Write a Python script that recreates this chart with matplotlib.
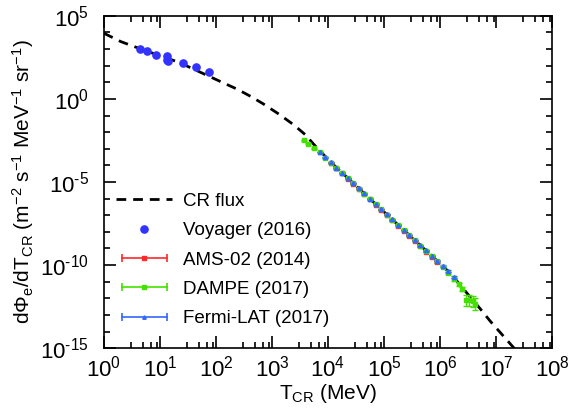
import numpy as np
import matplotlib
matplotlib.use("Agg")
import matplotlib.pyplot as plt
from matplotlib.lines import Line2D
from matplotlib.legend_handler import HandlerLine2D, HandlerTuple
from matplotlib.ticker import NullFormatter, FuncFormatter

plt.rcParams['font.family'] = ['Liberation Sans', 'DejaVu Sans']
plt.rcParams['mathtext.fontset'] = 'custom'
plt.rcParams['mathtext.rm'] = 'Liberation Sans'
plt.rcParams['mathtext.it'] = 'Liberation Sans:italic'
plt.rcParams['font.size'] = 13

# CR electron flux model (log10 T [MeV], log10 flux)
cr_logE = [0.0, 0.3, 0.7, 1.0, 1.34, 1.82, 2.14, 2.37, 2.62, 2.845, 3.125,
           3.38, 3.59, 3.75, 3.9, 4.04, 5.0, 5.94, 6.2, 6.54, 6.71, 6.89,
           7.07, 7.28, 7.35]
cr_logF = [3.95, 3.45, 2.95, 2.6, 2.2, 1.45, 0.95, 0.6, 0.15, -0.30, -0.92,
           -1.54, -2.14, -2.75, -3.28, -3.78, -6.80, -9.72, -10.55, -11.93,
           -12.6, -13.35, -14.04, -14.84, -15.1]

# Voyager (2016)
voy_E = [4.4, 5.9, 8.5, 13.3, 13.3, 14.1, 25.4, 44.5, 75.0]
voy_F = [1.0e3, 7.4e2, 4.3e2, 3.7e2, 2.3e2, 1.8e2, 1.55e2, 7.8e1, 4.3e1]

# AMS-02 (2014)
ams_logE = [4.05, 4.15, 4.25, 4.35, 4.45, 4.55, 4.65, 4.75, 4.85, 4.95,
            5.05, 5.15, 5.25, 5.35, 5.45, 5.55, 5.65, 5.75, 5.85, 5.95]
ams_logF = [-3.85, -4.17, -4.48, -4.80, -5.11, -5.43, -5.74, -6.05, -6.37, -6.68,
            -6.99, -7.30, -7.62, -7.93, -8.25, -8.56, -8.87, -9.20, -9.50, -9.83]
ams_err = [0.02] * 17 + [0.04, 0.05, 0.07]

# DAMPE (2017)
dampe_logE = [3.57, 3.65, 3.75, 3.85, 3.95, 4.05, 4.15, 4.25, 4.35, 4.45,
              4.55, 4.65, 4.75, 4.85, 4.95, 5.05, 5.15, 5.25, 5.35, 5.45,
              5.55, 5.65, 5.75, 5.85, 5.95, 6.05, 6.15, 6.25, 6.33, 6.40,
              6.46, 6.52, 6.58, 6.63]
dampe_logF = [-2.49, -2.70, -2.97, -3.22, -3.53, -3.84, -4.15, -4.46, -4.78, -5.09,
              -5.40, -5.71, -6.03, -6.34, -6.65, -6.96, -7.27, -7.58, -7.89, -8.21,
              -8.52, -8.83, -9.14, -9.46, -9.77, -10.10, -10.47, -10.85, -11.15, -11.45,
              -12.13, -12.13, -12.17, -12.32]
dampe_err = [0.02] * 25 + [0.04, 0.06, 0.08, 0.10, 0.12, 0.32, 0.33, 0.33, 0.36]

# Fermi-LAT (2017)
fermi_logE = [3.85, 3.95, 4.05, 4.15, 4.25, 4.35, 4.45, 4.55, 4.65, 4.75,
              4.85, 4.95, 5.05, 5.15, 5.25, 5.35, 5.45, 5.55, 5.65, 5.75,
              5.85, 5.95, 6.05, 6.15, 6.25]
fermi_logF = [-3.20, -3.51, -3.82, -4.13, -4.44, -4.76, -5.07, -5.38, -5.69, -6.00,
              -6.31, -6.63, -6.94, -7.25, -7.56, -7.87, -8.18, -8.50, -8.81, -9.12,
              -9.43, -9.74, -10.05, -10.38, -10.72]
fermi_err = [0.02] * 20 + [0.03, 0.04, 0.05, 0.06, 0.08]

c_ams = '#ff2a2a'
c_dampe = '#44e000'
c_fermi = '#3366ff'
c_voy = '#3333ff'


def pts(logE, logF, err):
    E = 10.0 ** np.array(logE)
    F = 10.0 ** np.array(logF)
    e = np.array(err)
    lo = F - F * 10.0 ** (-e)
    hi = F * 10.0 ** e - F
    return E, F, [lo, hi]


def pow_label(v, pos):
    p = int(round(np.log10(v)))
    if p < 0:
        return r'$\mathdefault{10^{\text{-}%d}}$' % (-p)
    return r'$\mathdefault{10^{%d}}$' % p


fig = plt.figure(figsize=(5.68, 4.16), dpi=100)
ax = fig.add_axes([0.183, 0.163, 0.789, 0.799])

ax.plot(10.0 ** np.array(cr_logE), 10.0 ** np.array(cr_logF), 'k--',
        lw=2, dashes=(3.5, 2.5), zorder=2)
ax.plot(voy_E, voy_F, 'o', color=c_voy, ms=5.2, zorder=3)

for logE, logF, err, c, m in [(ams_logE, ams_logF, ams_err, c_ams, 's'),
                              (dampe_logE, dampe_logF, dampe_err, c_dampe, 's'),
                              (fermi_logE, fermi_logF, fermi_err, c_fermi, '^')]:
    E, F, yerr = pts(logE, logF, err)
    ax.errorbar(E, F, yerr=yerr, fmt=m, color=c, ms=3, elinewidth=1,
                capsize=2, capthick=1, zorder=4)

ax.set_xscale('log')
ax.set_yscale('log')
ax.set_xlim(1, 1e8)
ax.set_ylim(1e-15, 1e5)
ax.set_xticks(10.0 ** np.arange(0, 9))
xminor = [s * 10.0 ** d for d in range(0, 8) for s in (3, 5, 7, 9)]
ax.set_xticks(xminor, minor=True)
ax.set_yticks(10.0 ** np.arange(-15, 6, 5))
ax.set_yticks(10.0 ** np.arange(-15, 6), minor=True)
ax.xaxis.set_major_formatter(FuncFormatter(pow_label))
ax.yaxis.set_major_formatter(FuncFormatter(pow_label))
ax.xaxis.set_minor_formatter(NullFormatter())
ax.yaxis.set_minor_formatter(NullFormatter())
ax.tick_params(which='both', direction='in', top=True, right=True, width=1.2)
ax.tick_params(which='major', length=8.5)
ax.tick_params(which='minor', length=4.5)
ax.tick_params(axis='x', which='major', pad=5, labelsize=16)
ax.tick_params(axis='y', which='major', pad=11, labelsize=16)
for s in ax.spines.values():
    s.set_linewidth(1.2)

ax.set_xlabel(r'T$_\mathrm{CR}$ (MeV)', fontsize=15, labelpad=1)
ax.set_ylabel('d$\\mathit{\u03a6}_\\mathrm{e}$/dT$_\\mathrm{CR}$ (m$^{-2}$ s$^{-1}$ '
              'MeV$^{-1}$ sr$^{-1}$)', fontsize=15, labelpad=3)

# legend handles: horizontal bar with caps and a small centre marker
h_cr = Line2D([], [], color='k', ls='--', lw=2, dashes=(3.5, 2.5))
h_voy = Line2D([], [], color=c_voy, marker='o', ls='none', ms=5.2)
handles = [h_cr, h_voy]
hmap = {h_voy: HandlerLine2D(numpoints=1)}
for c, m in [(c_ams, 's'), (c_dampe, 's'), (c_fermi, '^')]:
    bar = Line2D([], [], color=c, lw=1.2, marker='|', ms=6, mew=1.2)
    mid = Line2D([], [], color=c, marker=m, ls='none', ms=2.5)
    hmap[bar] = HandlerLine2D(numpoints=2)
    hmap[mid] = HandlerLine2D(numpoints=1)
    handles.append((bar, mid))
hmap[tuple] = HandlerTuple(ndivide=1)
labels = ['CR flux', 'Voyager (2016)', 'AMS-02 (2014)', 'DAMPE (2017)',
          'Fermi-LAT (2017)']
ax.legend(handles, labels, handler_map=hmap, loc='lower left', frameon=False,
          fontsize=13.5, handlelength=3.0, handletextpad=0.59, labelspacing=0.65,
          borderaxespad=0, borderpad=0, bbox_to_anchor=(0.027, 0.063))

fig.savefig('out.png', dpi=100)
